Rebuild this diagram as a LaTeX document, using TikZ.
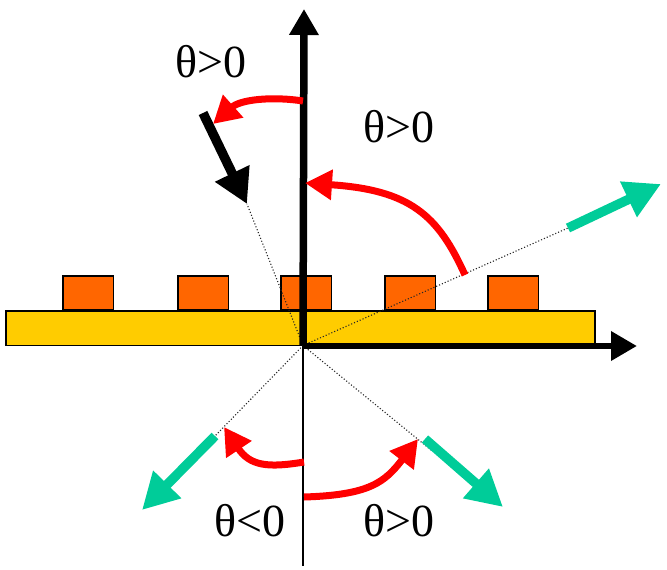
\documentclass[tikz,border=0pt]{standalone}
\usepackage{fontspec}
\setmainfont{Liberation Serif}
\usetikzlibrary{arrows.meta}
\definecolor{blockorange}{HTML}{FF6600}
\definecolor{slabyellow}{HTML}{FFCC00}
\definecolor{beamgreen}{HTML}{00CC99}
\tikzset{
  block/.style={draw=black,line width=1.2pt,fill=blockorange,anchor=north west,inner sep=0pt,outer sep=0pt,minimum width=50.5pt,minimum height=34pt},
  slab/.style={draw=black,line width=1.2pt,fill=slabyellow,anchor=north west,inner sep=0pt,outer sep=0pt,minimum width=589pt,minimum height=34.5pt},
  axisy/.style={line width=7.5pt,-{Triangle[length=26pt,width=28pt]}},
  axisx/.style={line width=6.5pt,-{Triangle[length=26pt,width=28pt]}},
  thinaxis/.style={line width=1.5pt},
  ray/.style={line width=1.1pt,dotted,line cap=butt,black!85},
  beam/.style={line width=9.5pt,beamgreen,-{Triangle[length=36pt,width=37pt]}},
  blackbeam/.style={line width=9.5pt,black,-{Triangle[length=34pt,width=36pt]}},
  angle/.style={line width=7pt,red,-{Triangle[length=27pt,width=29pt]}},
  lab/.style={font=\fontsize{46}{50}\selectfont,inner sep=0pt},
}
\begin{document}
\begin{tikzpicture}[x=1pt,y=-1pt]
\useasboundingbox (0,0) rectangle (667,570);
% structure
\node[slab] (substrate) at (6,311) {};
\node[block] (b1) at (63,276) {};
\node[block] (b2) at (178,276) {};
\node[block] (b3) at (281,276) {};
\node[block] (b4) at (385,276) {};
\node[block] (b5) at (488,276) {};
% points
\coordinate (O) at (303,345.5);
\coordinate (Ox) at (303,346);
\coordinate (ytip) at (304,9);
\coordinate (xtip) at (637,346);
\coordinate (ybot) at (303,566);
\coordinate (g1s) at (568,228);
\coordinate (g1e) at (661,184);
\coordinate (k1s) at (203,113);
\coordinate (k1e) at (247,204);
\coordinate (g2s) at (215,436);
\coordinate (g2e) at (142,510);
\coordinate (g3s) at (425,439);
\coordinate (g3e) at (503,507);
\coordinate (g3u) at (431,450);
% rays
\draw[ray] (O) -- (g1s);
\draw[ray] (O) -- (k1e);
\draw[ray] (O) -- (g2s);
\draw[ray] (O) -- (g3u);
% axes
\draw[thinaxis] (O) -- (ybot);
\draw[axisy] (O) -- (ytip);
\draw[axisx] (Ox) -- (xtip);
% beams
\draw[beam] (g1s) -- (g1e);
\draw[blackbeam] (k1s) -- (k1e);
\draw[beam] (g2s) -- (g2e);
\draw[beam] (g3s) -- (g3e);
% angle arcs
\coordinate (a1s) at (465,275);
\coordinate (a1e) at (305,183);
\coordinate (a2s) at (303,101);
\coordinate (a2e) at (213,124);
\coordinate (a3s) at (304,462);
\coordinate (a3e) at (224,427);
\coordinate (a4s) at (304,497);
\coordinate (a4e) at (418,439);
\draw[angle] (a1s) .. controls (438,215) and (410,190) .. (a1e);
\draw[angle] (a2s) .. controls (270,96) and (240,100) .. (a2e);
\draw[angle] (a3s) .. controls (268,468) and (250,466) .. (a3e);
\draw[angle] (a4s) .. controls (370,495) and (385,482) .. (a4e);
% labels
\node[lab] (t1) at (211,62) {θ>0};
\node[lab] (t2) at (399,127) {θ>0};
\node[lab] (t3) at (250,521) {θ<0};
\node[lab] (t4) at (399,521) {θ>0};
\end{tikzpicture}
\end{document}
